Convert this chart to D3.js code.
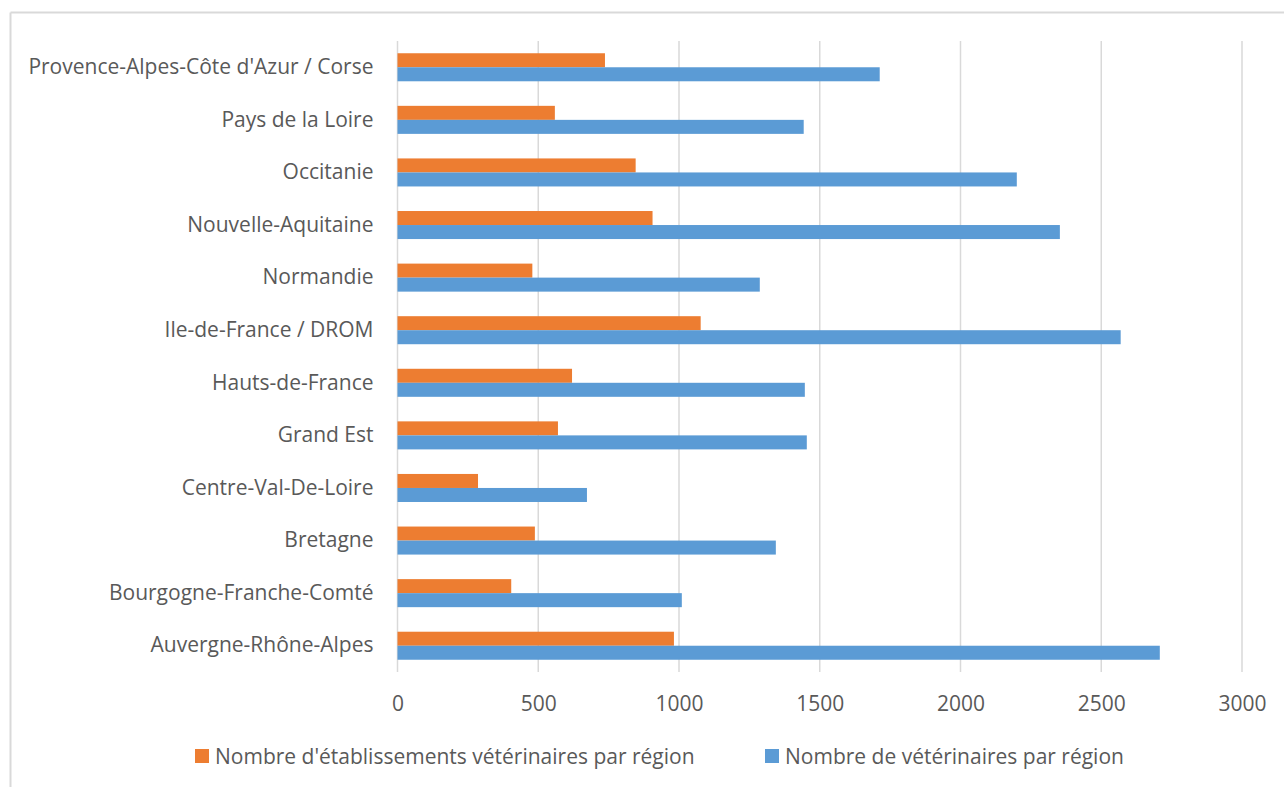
<!DOCTYPE html>
<html>
<head>
<meta charset="utf-8">
<script src="https://cdn.jsdelivr.net/npm/d3@7"></script>
<style>
  body { margin: 0; background: #fff; }
  text { font-family: "Open Sans", sans-serif; fill: #595959; }
</style>
</head>
<body>
<div id="chart"></div>
<script>
// regions, bottom to top as in the original
var regions = [
  "Auvergne-Rhône-Alpes",
  "Bourgogne-Franche-Comté",
  "Bretagne",
  "Centre-Val-De-Loire",
  "Grand Est",
  "Hauts-de-France",
  "Ile-de-France / DROM",
  "Normandie",
  "Nouvelle-Aquitaine",
  "Occitanie",
  "Pays de la Loire",
  "Provence-Alpes-Côte d'Azur / Corse"
];
var etablissements = [982, 404, 488, 286, 570, 620, 1077, 479, 906, 846, 559, 737];
var veterinaires = [2708, 1010, 1344, 673, 1454, 1447, 2569, 1287, 2353, 2200, 1443, 1713];
var xTicks = [0, 500, 1000, 1500, 2000, 2500, 3000];
var seriesNames = ["Nombre d'établissements vétérinaires par région", "Nombre de vétérinaires par région"];
var seriesColors = ["#ED7D31", "#5B9BD5"];

var width = 1284, height = 787;
var margin = {top: 41, right: 42, bottom: 115, left: 397.5};
var fontSize = 21;

var svg = d3.select("#chart").append("svg")
  .attr("width", width)
  .attr("height", height);

// outer chart frame (only top and left visible)
svg.append("line").attr("x1", 10.5).attr("y1", 12.5).attr("x2", width).attr("y2", 12.5)
  .attr("stroke", "#d9d9d9").attr("stroke-width", 2);
svg.append("line").attr("x1", 10.5).attr("y1", 12.5).attr("x2", 10.5).attr("y2", height)
  .attr("stroke", "#d9d9d9").attr("stroke-width", 2);

var x = d3.scaleLinear().domain([0, 3000]).range([margin.left, width - margin.right]);
var y = d3.scaleBand()
  .domain(regions.slice().reverse())
  .range([margin.top, height - margin.bottom])
  .paddingInner(0.467)
  .paddingOuter(0.233);
var sub = d3.scaleBand().domain([0, 1]).range([0, y.bandwidth()]);

// gridlines
svg.append("g")
  .selectAll("line")
  .data(xTicks)
  .enter().append("line")
    .attr("x1", function(d) { return x(d); })
    .attr("x2", function(d) { return x(d); })
    .attr("y1", margin.top)
    .attr("y2", height - margin.bottom)
    .attr("stroke", "#d9d9d9")
    .attr("stroke-width", 1.5);

var data = regions.map(function(r, i) {
  return {region: r, values: [etablissements[i], veterinaires[i]]};
});

var groups = svg.append("g")
  .selectAll("g")
  .data(data)
  .enter().append("g")
    .attr("transform", function(d) { return "translate(0," + y(d.region) + ")"; });

groups.selectAll("rect")
  .data(function(d) { return d.values.map(function(v, k) { return {k: k, v: v}; }); })
  .enter().append("rect")
    .attr("x", x(0))
    .attr("y", function(d) { return sub(d.k); })
    .attr("width", function(d) { return x(d.v) - x(0); })
    .attr("height", sub.bandwidth())
    .attr("fill", function(d) { return seriesColors[d.k]; });

// category labels
var yAxis = svg.append("g")
  .attr("transform", "translate(" + (x(0) - 24) + ",0)")
  .call(d3.axisLeft(y).tickSize(0).tickPadding(0));
yAxis.select(".domain").remove();
yAxis.selectAll("text")
  .attr("font-size", fontSize)
  .attr("font-family", "Open Sans, sans-serif")
  .attr("fill", "#595959");

// value axis
var xAxis = svg.append("g")
  .attr("transform", "translate(0," + (height - margin.bottom) + ")")
  .call(d3.axisBottom(x).tickValues(xTicks).tickFormat(d3.format("d")).tickSize(0).tickPadding(24));
xAxis.select(".domain").remove();
xAxis.selectAll("text")
  .attr("font-size", fontSize)
  .attr("font-family", "Open Sans, sans-serif")
  .attr("fill", "#595959");

// legend
var legendX = [195, 765];
var legend = svg.append("g")
  .selectAll("g")
  .data(seriesNames)
  .enter().append("g")
    .attr("transform", function(d, i) { return "translate(" + legendX[i] + ",749)"; });
legend.append("rect")
  .attr("width", 14).attr("height", 14)
  .attr("fill", function(d, i) { return seriesColors[i]; });
legend.append("text")
  .attr("x", 20)
  .attr("y", 15)
  .attr("font-size", fontSize)
  .text(function(d) { return d; });
</script>
</body>
</html>
